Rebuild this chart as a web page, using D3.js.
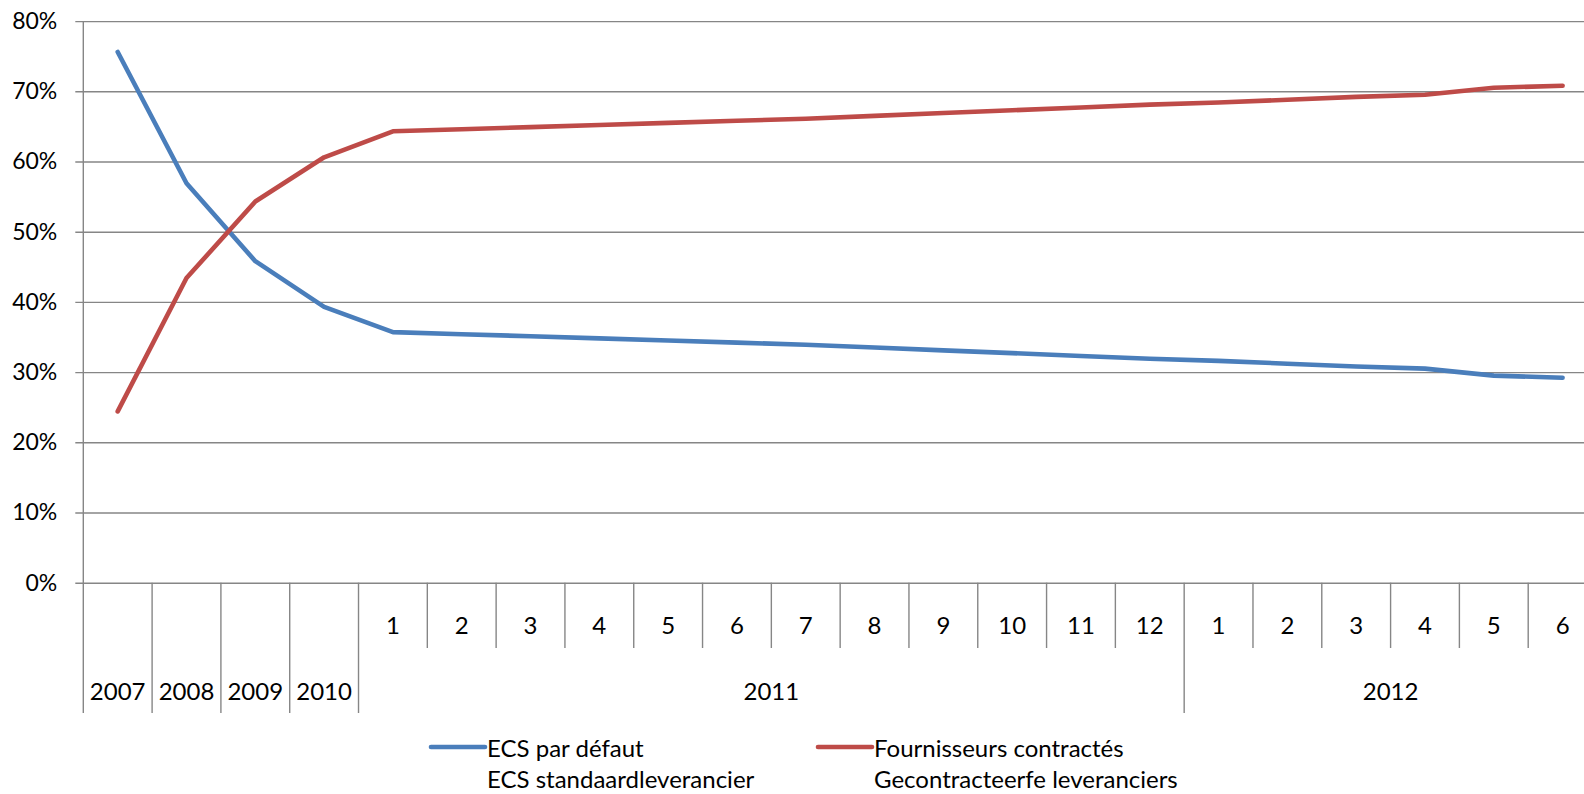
<!DOCTYPE html>
<html>
<head>
<meta charset="utf-8">
<script src="https://cdn.jsdelivr.net/npm/d3@7"></script>
<style>
  body { margin: 0; background: #fff; }
  svg { display: block; font-family: Lato, "Open Sans", sans-serif; }
  .lbl { font-size: 24px; fill: #000; }
  .ylbl { font-size: 23px; fill: #000; }
</style>
</head>
<body>
<div id="chart"></div>
<script>
// data
const years = ["2007", "2008", "2009", "2010"];
const months2011 = ["1", "2", "3", "4", "5", "6", "7", "8", "9", "10", "11", "12"];
const months2012 = ["1", "2", "3", "4", "5", "6"];
const ecsDefault = [75.6, 56.9, 45.8, 39.3,
  35.7, 35.4, 35.1, 34.8, 34.5, 34.2, 33.9, 33.5, 33.1, 32.7, 32.3, 31.9,
  31.6, 31.2, 30.8, 30.5, 29.5, 29.2];
const contracted = [24.4, 43.4, 54.3, 60.6,
  64.3, 64.6, 64.9, 65.2, 65.5, 65.8, 66.1, 66.5, 66.9, 67.3, 67.7, 68.1,
  68.4, 68.8, 69.2, 69.5, 70.5, 70.8];
const yTicks = [0, 10, 20, 30, 40, 50, 60, 70, 80];
const seriesNames = [
  ["ECS par défaut", "ECS standaardleverancier"],
  ["Fournisseurs contractés", "Gecontracteerfe leveranciers"]
];

const W = 1584, H = 794;
const plotL = 83.3, plotR = 1597, plotT = 21.1, plotB = 582.7;
const gridColor = "#868686";
const colors = ["#4A7EBB", "#BE4B48"];

// categories: single years, then months grouped by year
const cats = [];
years.forEach(y => cats.push({ key: y, month: null, group: y }));
months2011.forEach(m => cats.push({ key: "2011-" + m, month: m, group: "2011" }));
months2012.forEach(m => cats.push({ key: "2012-" + m, month: m, group: "2012" }));
const groups = years.concat(["2011", "2012"]);

const x = d3.scaleBand().domain(cats.map(d => d.key)).range([plotL, plotR]).padding(0);
const y = d3.scaleLinear().domain([0, 80]).range([plotB, plotT]);

const svg = d3.select("#chart").append("svg").attr("width", W).attr("height", H);

// horizontal gridlines + y labels
const yAxis = svg.append("g").attr("transform", `translate(${plotL},0)`)
  .call(d3.axisLeft(y).tickValues(yTicks).tickSize(-(plotR - plotL)).tickPadding(26)
    .tickFormat(d => d + "%"));
yAxis.attr("font-family", null).attr("font-size", null);
yAxis.select(".domain").remove();
yAxis.selectAll(".tick line").attr("x1", -8).attr("stroke", gridColor).attr("stroke-width", 1.4);
yAxis.selectAll(".tick text").attr("class", "ylbl");

// vertical axis line
svg.append("line").attr("x1", plotL).attr("x2", plotL).attr("y1", plotT).attr("y2", 713)
  .attr("stroke", gridColor).attr("stroke-width", 1.4);

// category separators: full depth at group starts, short inside a year
const monthRowY = 648, yearRowY = 713;
cats.forEach((c, i) => {
  if (i === 0) return;
  const start = cats[i - 1].group !== c.group;
  svg.append("line")
    .attr("x1", x(c.key)).attr("x2", x(c.key))
    .attr("y1", plotB).attr("y2", start ? yearRowY : monthRowY)
    .attr("stroke", gridColor).attr("stroke-width", 1.4);
});

// month labels
svg.append("g").selectAll("text").data(cats.filter(d => d.month)).enter().append("text")
  .attr("class", "lbl").attr("text-anchor", "middle").attr("dominant-baseline", "central")
  .attr("x", d => x(d.key) + x.bandwidth() / 2).attr("y", 624)
  .text(d => d.month);

// year labels centred on their group
svg.append("g").selectAll("text").data(groups).enter().append("text")
  .attr("class", "lbl").attr("text-anchor", "middle").attr("dominant-baseline", "central")
  .attr("x", g => {
    const ks = cats.filter(c => c.group === g);
    const x0 = x(ks[0].key), x1 = x(ks[ks.length - 1].key) + x.bandwidth();
    return (x0 + x1) / 2;
  })
  .attr("y", 690)
  .text(g => g);

// lines
const line = d3.line().x((d, i) => x(cats[i].key) + x.bandwidth() / 2).y(d => y(d));
[ecsDefault, contracted].forEach((s, k) => {
  svg.append("path").datum(s).attr("d", line)
    .attr("fill", "none").attr("stroke", colors[k]).attr("stroke-width", 4.6)
    .attr("stroke-linecap", "round").attr("stroke-linejoin", "round");
});

// legend
const legendX = [431, 818];
seriesNames.forEach((names, k) => {
  const g = svg.append("g").attr("transform", `translate(${legendX[k]},747)`);
  g.append("line").attr("x1", 0).attr("x2", 54).attr("y1", 0).attr("y2", 0)
    .attr("stroke", colors[k]).attr("stroke-width", 4.6).attr("stroke-linecap", "round");
  names.forEach((n, j) => {
    g.append("text").attr("class", "lbl").attr("x", 56).attr("y", j * 31)
      .attr("dominant-baseline", "central").text(n);
  });
});
</script>
</body>
</html>
